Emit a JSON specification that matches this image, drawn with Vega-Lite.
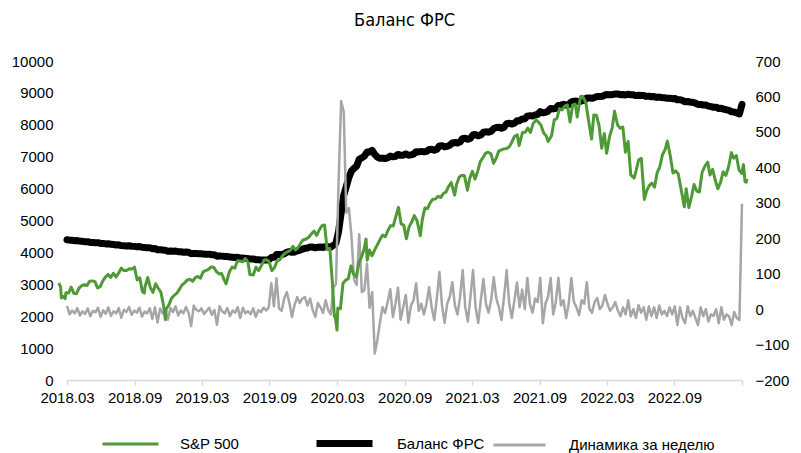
{
"$schema": "https://vega.github.io/schema/vega-lite/v6.json",
"width": 675, "height": 319,
"autosize": {"type": "none"},
"padding": {"left": 67, "top": 61, "right": 59, "bottom": 73},
"background": "white",
"title": {"text": "Баланс ФРС", "anchor": "middle", "frame": "group", "font": "Liberation Sans Narrow, DejaVu Sans Condensed, Roboto Condensed, Roboto", "fontSize": 18, "fontWeight": "normal", "color": "#000000", "offset": 24},
"config": {"view": {"stroke": null}, "axis": {"labelFont": "Liberation Sans", "labelFontSize": 15, "labelColor": "#000000", "grid": false}},
"datasets": {
"fed": [
{"d":"2018-03-14","fed":4398,"chg":9},{"d":"2018-03-21","fed":4383,"chg":-15},{"d":"2018-03-28","fed":4379,"chg":-4},{"d":"2018-04-04","fed":4367,"chg":-12},{"d":"2018-04-11","fed":4370,"chg":3},{"d":"2018-04-18","fed":4352,"chg":-18},{"d":"2018-04-25","fed":4346,"chg":-6},{"d":"2018-05-02","fed":4332,"chg":-14},{"d":"2018-05-09","fed":4334,"chg":2},{"d":"2018-05-16","fed":4314,"chg":-20},{"d":"2018-05-23","fed":4309,"chg":-5},{"d":"2018-05-30","fed":4300,"chg":-9},{"d":"2018-06-06","fed":4304,"chg":4},{"d":"2018-06-13","fed":4282,"chg":-22},{"d":"2018-06-20","fed":4279,"chg":-3},{"d":"2018-06-27","fed":4266,"chg":-13},{"d":"2018-07-04","fed":4271,"chg":5},{"d":"2018-07-11","fed":4252,"chg":-19},{"d":"2018-07-18","fed":4246,"chg":-6},{"d":"2018-07-25","fed":4234,"chg":-12},{"d":"2018-08-01","fed":4237,"chg":3},{"d":"2018-08-08","fed":4213,"chg":-24},{"d":"2018-08-15","fed":4211,"chg":-2},{"d":"2018-08-22","fed":4203,"chg":-8},{"d":"2018-08-29","fed":4209,"chg":6},{"d":"2018-09-05","fed":4193,"chg":-16},{"d":"2018-09-12","fed":4189,"chg":-4},{"d":"2018-09-19","fed":4179,"chg":-10},{"d":"2018-09-26","fed":4183,"chg":4},{"d":"2018-10-03","fed":4162,"chg":-21},{"d":"2018-10-10","fed":4155,"chg":-7},{"d":"2018-10-17","fed":4143,"chg":-12},{"d":"2018-10-24","fed":4145,"chg":2},{"d":"2018-10-31","fed":4117,"chg":-28},{"d":"2018-11-07","fed":4122,"chg":5},{"d":"2018-11-14","fed":4084,"chg":-38},{"d":"2018-11-21","fed":4086,"chg":2},{"d":"2018-11-28","fed":4074,"chg":-12},{"d":"2018-12-05","fed":4068,"chg":-6},{"d":"2018-12-12","fed":4038,"chg":-30},{"d":"2018-12-19","fed":4041,"chg":3},{"d":"2018-12-26","fed":4033,"chg":-8},
{"d":"2019-01-02","fed":4041,"chg":8},{"d":"2019-01-09","fed":4023,"chg":-18},{"d":"2019-01-16","fed":4019,"chg":-4},{"d":"2019-01-23","fed":4007,"chg":-12},{"d":"2019-01-30","fed":4013,"chg":6},{"d":"2019-02-06","fed":4003,"chg":-10},{"d":"2019-02-13","fed":3955,"chg":-48},{"d":"2019-02-20","fed":3965,"chg":10},{"d":"2019-02-27","fed":3963,"chg":-2},{"d":"2019-03-06","fed":3957,"chg":-6},{"d":"2019-03-13","fed":3959,"chg":2},{"d":"2019-03-20","fed":3945,"chg":-14},{"d":"2019-03-27","fed":3940,"chg":-5},{"d":"2019-04-03","fed":3944,"chg":4},{"d":"2019-04-10","fed":3928,"chg":-16},{"d":"2019-04-17","fed":3925,"chg":-3},{"d":"2019-04-24","fed":3881,"chg":-44},{"d":"2019-05-01","fed":3889,"chg":8},{"d":"2019-05-08","fed":3883,"chg":-6},{"d":"2019-05-15","fed":3871,"chg":-12},{"d":"2019-05-22","fed":3874,"chg":3},{"d":"2019-05-29","fed":3854,"chg":-20},{"d":"2019-06-05","fed":3850,"chg":-4},{"d":"2019-06-12","fed":3840,"chg":-10},{"d":"2019-06-19","fed":3845,"chg":5},{"d":"2019-06-26","fed":3820,"chg":-25},{"d":"2019-07-03","fed":3824,"chg":4},{"d":"2019-07-10","fed":3812,"chg":-12},{"d":"2019-07-17","fed":3806,"chg":-6},{"d":"2019-07-24","fed":3792,"chg":-14},{"d":"2019-07-31","fed":3794,"chg":2},{"d":"2019-08-07","fed":3772,"chg":-22},{"d":"2019-08-14","fed":3769,"chg":-3},{"d":"2019-08-21","fed":3760,"chg":-9},{"d":"2019-08-28","fed":3764,"chg":4},{"d":"2019-09-04","fed":3760,"chg":-4},{"d":"2019-09-11","fed":3765,"chg":5},{"d":"2019-09-18","fed":3838,"chg":73},{"d":"2019-09-25","fed":3846,"chg":8},{"d":"2019-10-02","fed":3933,"chg":87},{"d":"2019-10-09","fed":3935,"chg":2},{"d":"2019-10-16","fed":3930,"chg":-5},{"d":"2019-10-23","fed":3960,"chg":30},{"d":"2019-10-30","fed":4008,"chg":48},{"d":"2019-11-06","fed":4025,"chg":17},{"d":"2019-11-13","fed":4003,"chg":-22},{"d":"2019-11-20","fed":4015,"chg":12},{"d":"2019-11-27","fed":4049,"chg":34},{"d":"2019-12-04","fed":4066,"chg":17},{"d":"2019-12-11","fed":4096,"chg":30},{"d":"2019-12-18","fed":4130,"chg":34},{"d":"2019-12-25","fed":4140,"chg":10},
{"d":"2020-01-01","fed":4170,"chg":30},{"d":"2020-01-08","fed":4167,"chg":-3},{"d":"2020-01-15","fed":4145,"chg":-22},{"d":"2020-01-22","fed":4162,"chg":17},{"d":"2020-01-29","fed":4167,"chg":5},{"d":"2020-02-05","fed":4156,"chg":-11},{"d":"2020-02-12","fed":4181,"chg":25},{"d":"2020-02-19","fed":4178,"chg":-3},{"d":"2020-02-26","fed":4163,"chg":-15},{"d":"2020-03-04","fed":4223,"chg":60},{"d":"2020-03-11","fed":4293,"chg":70},{"d":"2020-03-18","fed":4649,"chg":356},{"d":"2020-03-25","fed":5236,"chg":587},{"d":"2020-04-01","fed":5793,"chg":557},{"d":"2020-04-08","fed":6065,"chg":272},{"d":"2020-04-15","fed":6350,"chg":285},{"d":"2020-04-22","fed":6555,"chg":205},{"d":"2020-04-29","fed":6638,"chg":83},{"d":"2020-05-06","fed":6706,"chg":68},{"d":"2020-05-13","fed":6917,"chg":211},{"d":"2020-05-20","fed":6965,"chg":48},{"d":"2020-05-27","fed":7019,"chg":54},{"d":"2020-06-03","fed":7147,"chg":128},{"d":"2020-06-10","fed":7151,"chg":4},{"d":"2020-06-17","fed":7199,"chg":48},{"d":"2020-06-24","fed":7074,"chg":-125},{"d":"2020-07-01","fed":6986,"chg":-88},{"d":"2020-07-08","fed":6948,"chg":-38},{"d":"2020-07-15","fed":6954,"chg":6},{"d":"2020-07-22","fed":6943,"chg":-11},{"d":"2020-07-29","fed":6963,"chg":20},{"d":"2020-08-05","fed":7019,"chg":56},{"d":"2020-08-12","fed":6997,"chg":-22},{"d":"2020-08-19","fed":7012,"chg":15},{"d":"2020-08-26","fed":7072,"chg":60},{"d":"2020-09-02","fed":7042,"chg":-30},{"d":"2020-09-09","fed":7047,"chg":5},{"d":"2020-09-16","fed":7087,"chg":40},{"d":"2020-09-23","fed":7048,"chg":-39},{"d":"2020-09-30","fed":7058,"chg":10},{"d":"2020-10-07","fed":7083,"chg":25},{"d":"2020-10-14","fed":7156,"chg":73},{"d":"2020-10-21","fed":7151,"chg":-5},{"d":"2020-10-28","fed":7166,"chg":15},{"d":"2020-11-04","fed":7151,"chg":-15},{"d":"2020-11-11","fed":7166,"chg":15},{"d":"2020-11-18","fed":7228,"chg":62},{"d":"2020-11-25","fed":7233,"chg":5},{"d":"2020-12-02","fed":7202,"chg":-31},{"d":"2020-12-09","fed":7232,"chg":30},{"d":"2020-12-16","fed":7337,"chg":105},{"d":"2020-12-23","fed":7347,"chg":10},{"d":"2020-12-30","fed":7308,"chg":-39},
{"d":"2021-01-06","fed":7323,"chg":15},{"d":"2021-01-13","fed":7358,"chg":35},{"d":"2021-01-20","fed":7434,"chg":76},{"d":"2021-01-27","fed":7444,"chg":10},{"d":"2021-02-03","fed":7429,"chg":-15},{"d":"2021-02-10","fed":7464,"chg":35},{"d":"2021-02-17","fed":7574,"chg":110},{"d":"2021-02-24","fed":7579,"chg":5},{"d":"2021-03-03","fed":7544,"chg":-35},{"d":"2021-03-10","fed":7579,"chg":35},{"d":"2021-03-17","fed":7689,"chg":110},{"d":"2021-03-24","fed":7694,"chg":5},{"d":"2021-03-31","fed":7655,"chg":-39},{"d":"2021-04-07","fed":7680,"chg":25},{"d":"2021-04-14","fed":7765,"chg":85},{"d":"2021-04-21","fed":7780,"chg":15},{"d":"2021-04-28","fed":7770,"chg":-10},{"d":"2021-05-05","fed":7795,"chg":25},{"d":"2021-05-12","fed":7885,"chg":90},{"d":"2021-05-19","fed":7915,"chg":30},{"d":"2021-05-26","fed":7920,"chg":5},{"d":"2021-06-02","fed":7889,"chg":-31},{"d":"2021-06-09","fed":7924,"chg":35},{"d":"2021-06-16","fed":8034,"chg":110},{"d":"2021-06-23","fed":8049,"chg":15},{"d":"2021-06-30","fed":8024,"chg":-25},{"d":"2021-07-07","fed":8049,"chg":25},{"d":"2021-07-14","fed":8124,"chg":75},{"d":"2021-07-21","fed":8129,"chg":5},{"d":"2021-07-28","fed":8184,"chg":55},{"d":"2021-08-04","fed":8184,"chg":0},{"d":"2021-08-11","fed":8272,"chg":88},{"d":"2021-08-18","fed":8287,"chg":15},{"d":"2021-08-25","fed":8277,"chg":-10},{"d":"2021-09-01","fed":8307,"chg":30},{"d":"2021-09-08","fed":8327,"chg":20},{"d":"2021-09-15","fed":8415,"chg":88},{"d":"2021-09-22","fed":8375,"chg":-40},{"d":"2021-09-29","fed":8390,"chg":15},{"d":"2021-10-06","fed":8425,"chg":35},{"d":"2021-10-13","fed":8513,"chg":88},{"d":"2021-10-20","fed":8498,"chg":-15},{"d":"2021-10-27","fed":8518,"chg":20},{"d":"2021-11-03","fed":8606,"chg":88},{"d":"2021-11-10","fed":8616,"chg":10},{"d":"2021-11-17","fed":8641,"chg":25},{"d":"2021-11-24","fed":8616,"chg":-25},{"d":"2021-12-01","fed":8631,"chg":15},{"d":"2021-12-08","fed":8719,"chg":88},{"d":"2021-12-15","fed":8739,"chg":20},{"d":"2021-12-22","fed":8744,"chg":5},{"d":"2021-12-29","fed":8727,"chg":-17},
{"d":"2022-01-05","fed":8752,"chg":25},{"d":"2022-01-12","fed":8767,"chg":15},{"d":"2022-01-19","fed":8843,"chg":76},{"d":"2022-01-26","fed":8843,"chg":0},{"d":"2022-02-02","fed":8833,"chg":-10},{"d":"2022-02-09","fed":8853,"chg":20},{"d":"2022-02-16","fed":8884,"chg":31},{"d":"2022-02-23","fed":8884,"chg":0},{"d":"2022-03-02","fed":8894,"chg":10},{"d":"2022-03-09","fed":8934,"chg":40},{"d":"2022-03-16","fed":8949,"chg":15},{"d":"2022-03-23","fed":8944,"chg":-5},{"d":"2022-03-30","fed":8949,"chg":5},{"d":"2022-04-06","fed":8969,"chg":20},{"d":"2022-04-13","fed":8965,"chg":-4},{"d":"2022-04-20","fed":8945,"chg":-20},{"d":"2022-04-27","fed":8950,"chg":5},{"d":"2022-05-04","fed":8935,"chg":-15},{"d":"2022-05-11","fed":8960,"chg":25},{"d":"2022-05-18","fed":8940,"chg":-20},{"d":"2022-05-25","fed":8940,"chg":0},{"d":"2022-06-01","fed":8915,"chg":-25},{"d":"2022-06-08","fed":8926,"chg":11},{"d":"2022-06-15","fed":8916,"chg":-10},{"d":"2022-06-22","fed":8921,"chg":5},{"d":"2022-06-29","fed":8891,"chg":-30},{"d":"2022-07-06","fed":8899,"chg":8},{"d":"2022-07-13","fed":8879,"chg":-20},{"d":"2022-07-20","fed":8884,"chg":5},{"d":"2022-07-27","fed":8859,"chg":-25},{"d":"2022-08-03","fed":8869,"chg":10},{"d":"2022-08-10","fed":8854,"chg":-15},{"d":"2022-08-17","fed":8849,"chg":-5},{"d":"2022-08-24","fed":8829,"chg":-20},{"d":"2022-08-31","fed":8834,"chg":5},{"d":"2022-09-07","fed":8819,"chg":-15},{"d":"2022-09-14","fed":8827,"chg":8},{"d":"2022-09-21","fed":8782,"chg":-45},{"d":"2022-09-28","fed":8787,"chg":5},{"d":"2022-10-05","fed":8762,"chg":-25},{"d":"2022-10-12","fed":8722,"chg":-40},{"d":"2022-10-19","fed":8730,"chg":8},{"d":"2022-10-26","fed":8710,"chg":-20},{"d":"2022-11-02","fed":8705,"chg":-5},{"d":"2022-11-09","fed":8680,"chg":-25},{"d":"2022-11-16","fed":8635,"chg":-45},{"d":"2022-11-23","fed":8640,"chg":5},{"d":"2022-11-30","fed":8620,"chg":-20},{"d":"2022-12-07","fed":8620,"chg":0},{"d":"2022-12-14","fed":8585,"chg":-35},{"d":"2022-12-21","fed":8570,"chg":-15},{"d":"2022-12-28","fed":8551,"chg":-19},
{"d":"2023-01-04","fed":8551,"chg":0},{"d":"2023-01-11","fed":8511,"chg":-40},{"d":"2023-01-18","fed":8516,"chg":5},{"d":"2023-01-25","fed":8486,"chg":-30},{"d":"2023-02-01","fed":8471,"chg":-15},{"d":"2023-02-08","fed":8451,"chg":-20},{"d":"2023-02-15","fed":8406,"chg":-45},{"d":"2023-02-22","fed":8398,"chg":-8},{"d":"2023-03-01","fed":8373,"chg":-25},{"d":"2023-03-08","fed":8342,"chg":-31},{"d":"2023-03-15","fed":8639,"chg":297}
],
"spx": [
{"d":"2018-03-16","v":2752},{"d":"2018-03-21","v":2711},{"d":"2018-03-23","v":2588},{"d":"2018-03-28","v":2605},{"d":"2018-04-02","v":2582},{"d":"2018-04-04","v":2644},{"d":"2018-04-11","v":2642},{"d":"2018-04-18","v":2708},{"d":"2018-04-25","v":2639},{"d":"2018-05-02","v":2635},{"d":"2018-05-09","v":2697},{"d":"2018-05-16","v":2722},{"d":"2018-05-23","v":2733},{"d":"2018-05-30","v":2724},{"d":"2018-06-06","v":2772},{"d":"2018-06-13","v":2775},{"d":"2018-06-20","v":2767},{"d":"2018-06-27","v":2699},{"d":"2018-07-04","v":2713},{"d":"2018-07-11","v":2775},{"d":"2018-07-18","v":2816},{"d":"2018-07-25","v":2846},{"d":"2018-08-01","v":2813},{"d":"2018-08-08","v":2858},{"d":"2018-08-15","v":2818},{"d":"2018-08-22","v":2861},{"d":"2018-08-29","v":2914},{"d":"2018-09-05","v":2888},{"d":"2018-09-12","v":2888},{"d":"2018-09-19","v":2907},{"d":"2018-09-26","v":2905},{"d":"2018-10-03","v":2925},{"d":"2018-10-10","v":2785},{"d":"2018-10-17","v":2809},{"d":"2018-10-24","v":2656},{"d":"2018-10-29","v":2641},{"d":"2018-10-31","v":2711},{"d":"2018-11-07","v":2813},{"d":"2018-11-14","v":2701},{"d":"2018-11-21","v":2649},{"d":"2018-11-28","v":2743},{"d":"2018-12-04","v":2700},{"d":"2018-12-12","v":2651},{"d":"2018-12-19","v":2507},{"d":"2018-12-24","v":2351},{"d":"2018-12-26","v":2467},
{"d":"2019-01-02","v":2510},{"d":"2019-01-09","v":2584},{"d":"2019-01-16","v":2616},{"d":"2019-01-23","v":2639},{"d":"2019-01-30","v":2681},{"d":"2019-02-06","v":2731},{"d":"2019-02-13","v":2753},{"d":"2019-02-20","v":2784},{"d":"2019-02-27","v":2792},{"d":"2019-03-06","v":2771},{"d":"2019-03-13","v":2811},{"d":"2019-03-20","v":2824},{"d":"2019-03-27","v":2805},{"d":"2019-04-03","v":2873},{"d":"2019-04-10","v":2888},{"d":"2019-04-17","v":2900},{"d":"2019-04-24","v":2927},{"d":"2019-05-01","v":2924},{"d":"2019-05-08","v":2879},{"d":"2019-05-15","v":2851},{"d":"2019-05-22","v":2856},{"d":"2019-05-29","v":2783},{"d":"2019-06-03","v":2744},{"d":"2019-06-12","v":2879},{"d":"2019-06-19","v":2926},{"d":"2019-06-26","v":2914},{"d":"2019-07-03","v":2996},{"d":"2019-07-10","v":2993},{"d":"2019-07-17","v":2985},{"d":"2019-07-24","v":3019},{"d":"2019-07-31","v":2980},{"d":"2019-08-05","v":2844},{"d":"2019-08-14","v":2840},{"d":"2019-08-21","v":2924},{"d":"2019-08-28","v":2887},{"d":"2019-09-04","v":2937},{"d":"2019-09-11","v":3000},{"d":"2019-09-18","v":3006},{"d":"2019-09-25","v":2984},{"d":"2019-10-02","v":2887},{"d":"2019-10-09","v":2919},{"d":"2019-10-16","v":2990},{"d":"2019-10-23","v":3004},{"d":"2019-10-30","v":3046},{"d":"2019-11-06","v":3077},{"d":"2019-11-13","v":3094},{"d":"2019-11-20","v":3108},{"d":"2019-11-27","v":3153},{"d":"2019-12-04","v":3113},{"d":"2019-12-11","v":3141},{"d":"2019-12-18","v":3191},{"d":"2019-12-24","v":3223},{"d":"2019-12-31","v":3231},
{"d":"2020-01-08","v":3253},{"d":"2020-01-15","v":3289},{"d":"2020-01-22","v":3321},{"d":"2020-01-29","v":3273},{"d":"2020-02-05","v":3334},{"d":"2020-02-12","v":3379},{"d":"2020-02-19","v":3386},{"d":"2020-02-26","v":3116},{"d":"2020-03-04","v":3130},{"d":"2020-03-11","v":2741},{"d":"2020-03-16","v":2386},{"d":"2020-03-18","v":2398},{"d":"2020-03-23","v":2237},{"d":"2020-03-25","v":2475},{"d":"2020-04-01","v":2470},{"d":"2020-04-08","v":2750},{"d":"2020-04-15","v":2783},{"d":"2020-04-22","v":2799},{"d":"2020-04-29","v":2939},{"d":"2020-05-06","v":2848},{"d":"2020-05-13","v":2820},{"d":"2020-05-20","v":2972},{"d":"2020-05-27","v":3036},{"d":"2020-06-03","v":3123},{"d":"2020-06-08","v":3232},{"d":"2020-06-11","v":3002},{"d":"2020-06-17","v":3113},{"d":"2020-06-24","v":3050},{"d":"2020-07-01","v":3115},{"d":"2020-07-08","v":3169},{"d":"2020-07-15","v":3227},{"d":"2020-07-22","v":3276},{"d":"2020-07-29","v":3258},{"d":"2020-08-05","v":3327},{"d":"2020-08-12","v":3380},{"d":"2020-08-19","v":3375},{"d":"2020-08-26","v":3479},{"d":"2020-09-02","v":3580},{"d":"2020-09-09","v":3399},{"d":"2020-09-16","v":3385},{"d":"2020-09-23","v":3237},{"d":"2020-09-30","v":3363},{"d":"2020-10-07","v":3419},{"d":"2020-10-14","v":3489},{"d":"2020-10-21","v":3436},{"d":"2020-10-30","v":3270},{"d":"2020-11-04","v":3443},{"d":"2020-11-11","v":3572},{"d":"2020-11-18","v":3567},{"d":"2020-11-25","v":3629},{"d":"2020-12-02","v":3669},{"d":"2020-12-09","v":3672},{"d":"2020-12-16","v":3701},{"d":"2020-12-23","v":3687},{"d":"2020-12-30","v":3732},
{"d":"2021-01-06","v":3748},{"d":"2021-01-13","v":3809},{"d":"2021-01-20","v":3851},{"d":"2021-01-29","v":3714},{"d":"2021-02-03","v":3830},{"d":"2021-02-10","v":3910},{"d":"2021-02-17","v":3931},{"d":"2021-02-24","v":3925},{"d":"2021-03-04","v":3768},{"d":"2021-03-10","v":3898},{"d":"2021-03-17","v":3974},{"d":"2021-03-24","v":3889},{"d":"2021-03-31","v":3973},{"d":"2021-04-07","v":4080},{"d":"2021-04-14","v":4124},{"d":"2021-04-21","v":4173},{"d":"2021-04-28","v":4183},{"d":"2021-05-05","v":4167},{"d":"2021-05-12","v":4063},{"d":"2021-05-19","v":4116},{"d":"2021-05-26","v":4196},{"d":"2021-06-02","v":4208},{"d":"2021-06-09","v":4220},{"d":"2021-06-16","v":4223},{"d":"2021-06-23","v":4242},{"d":"2021-06-30","v":4298},{"d":"2021-07-07","v":4358},{"d":"2021-07-14","v":4374},{"d":"2021-07-19","v":4258},{"d":"2021-07-28","v":4400},{"d":"2021-08-04","v":4402},{"d":"2021-08-11","v":4447},{"d":"2021-08-18","v":4400},{"d":"2021-08-25","v":4496},{"d":"2021-09-02","v":4537},{"d":"2021-09-08","v":4514},{"d":"2021-09-15","v":4480},{"d":"2021-09-22","v":4395},{"d":"2021-09-29","v":4359},{"d":"2021-10-04","v":4300},{"d":"2021-10-13","v":4364},{"d":"2021-10-20","v":4537},{"d":"2021-10-27","v":4551},{"d":"2021-11-03","v":4660},{"d":"2021-11-10","v":4646},{"d":"2021-11-17","v":4688},{"d":"2021-11-24","v":4701},{"d":"2021-12-01","v":4513},{"d":"2021-12-08","v":4701},{"d":"2021-12-15","v":4709},{"d":"2021-12-20","v":4568},{"d":"2021-12-29","v":4793},
{"d":"2022-01-03","v":4796},{"d":"2022-01-12","v":4726},{"d":"2022-01-19","v":4533},{"d":"2022-01-27","v":4327},{"d":"2022-02-02","v":4590},{"d":"2022-02-09","v":4587},{"d":"2022-02-16","v":4475},{"d":"2022-02-23","v":4226},{"d":"2022-03-02","v":4387},{"d":"2022-03-08","v":4171},{"d":"2022-03-16","v":4358},{"d":"2022-03-23","v":4456},{"d":"2022-03-29","v":4632},{"d":"2022-04-06","v":4481},{"d":"2022-04-13","v":4446},{"d":"2022-04-20","v":4459},{"d":"2022-04-27","v":4183},{"d":"2022-05-04","v":4300},{"d":"2022-05-11","v":3935},{"d":"2022-05-20","v":3901},{"d":"2022-05-25","v":3979},{"d":"2022-06-01","v":4101},{"d":"2022-06-08","v":4115},{"d":"2022-06-16","v":3667},{"d":"2022-06-22","v":3760},{"d":"2022-06-29","v":3818},{"d":"2022-07-06","v":3845},{"d":"2022-07-13","v":3801},{"d":"2022-07-20","v":3959},{"d":"2022-07-27","v":4024},{"d":"2022-08-03","v":4155},{"d":"2022-08-10","v":4210},{"d":"2022-08-16","v":4305},{"d":"2022-08-24","v":4140},{"d":"2022-08-31","v":3955},{"d":"2022-09-07","v":3980},{"d":"2022-09-14","v":3946},{"d":"2022-09-21","v":3790},{"d":"2022-09-30","v":3586},{"d":"2022-10-05","v":3783},{"d":"2022-10-12","v":3577},{"d":"2022-10-19","v":3695},{"d":"2022-10-26","v":3830},{"d":"2022-11-02","v":3759},{"d":"2022-11-09","v":3748},{"d":"2022-11-16","v":3959},{"d":"2022-11-23","v":4027},{"d":"2022-12-01","v":4076},{"d":"2022-12-07","v":3933},{"d":"2022-12-14","v":3995},{"d":"2022-12-21","v":3879},{"d":"2022-12-28","v":3783},
{"d":"2023-01-04","v":3853},{"d":"2023-01-11","v":3969},{"d":"2023-01-18","v":3929},{"d":"2023-01-25","v":4016},{"d":"2023-02-02","v":4179},{"d":"2023-02-08","v":4118},{"d":"2023-02-15","v":4147},{"d":"2023-02-22","v":3991},{"d":"2023-03-01","v":3951},{"d":"2023-03-06","v":4048},{"d":"2023-03-10","v":3862},{"d":"2023-03-13","v":3855},{"d":"2023-03-15","v":3892}
]
},
"layer": [
{
"data": {"name": "fed"},
"mark": {"type": "line", "strokeWidth": 7, "strokeJoin": "round", "strokeCap": "round", "clip": false},
"encoding": {
"x": {"field": "d", "type": "temporal",
"scale": {"type": "utc", "domain": [{"year": 2018, "month": 3, "date": 14, "utc": true}, {"year": 2023, "month": 3, "date": 15, "utc": true}]},
"axis": {"title": null, "grid": false, "domainColor": "#d9d9d9", "domainWidth": 1.5, "tickColor": "#d9d9d9", "tickWidth": 1.5, "tickSize": 5, "labelPadding": 5, "labelFlush": false, "labelOverlap": false,
"values": [{"year": 2018, "month": 3, "date": 14, "utc": true}, {"year": 2018, "month": 9, "date": 13, "utc": true}, {"year": 2019, "month": 3, "date": 14, "utc": true}, {"year": 2019, "month": 9, "date": 13, "utc": true}, {"year": 2020, "month": 3, "date": 14, "utc": true}, {"year": 2020, "month": 9, "date": 13, "utc": true}, {"year": 2021, "month": 3, "date": 14, "utc": true}, {"year": 2021, "month": 9, "date": 13, "utc": true}, {"year": 2022, "month": 3, "date": 14, "utc": true}, {"year": 2022, "month": 9, "date": 13, "utc": true}, {"year": 2023, "month": 3, "date": 15, "utc": true}],
"labelExpr": "utcyear(datum.value) == 2023 ? '' : utcFormat(datum.value, '%Y.%m')"}},
"y": {"field": "fed", "type": "quantitative", "scale": {"domain": [0, 10000], "nice": false, "zero": false},
"axis": {"title": null, "orient": "left", "values": [0,1000,2000,3000,4000,5000,6000,7000,8000,9000,10000], "format": "d", "domain": false, "ticks": false, "labelPadding": 14}},
"color": {"datum": "Баланс ФРС", "type": "nominal", "scale": {"range": ["#000000"]},
"legend": {"title": null, "orient": "none", "legendX": 246, "legendY": 351, "symbolType": "stroke", "symbolSize": 3136, "symbolStrokeWidth": 7, "labelOffset": 21, "labelFont": "Liberation Sans", "labelFontSize": 15, "labelColor": "#000000", "padding": 0}}
}
},
{
"data": {"name": "fed"},
"mark": {"type": "line", "strokeWidth": 2.5, "color": "#a6a6a6", "strokeJoin": "round", "clip": false},
"encoding": {
"x": {"field": "d", "type": "temporal",
"scale": {"type": "utc", "domain": [{"year": 2018, "month": 3, "date": 14, "utc": true}, {"year": 2023, "month": 3, "date": 15, "utc": true}]},
"axis": null},
"y": {"field": "chg", "type": "quantitative", "scale": {"domain": [-200, 700], "nice": false, "zero": false},
"axis": {"title": null, "orient": "right", "values": [-200,-100,0,100,200,300,400,500,600,700], "format": "d", "domain": false, "ticks": false, "labelPadding": 13}},
"color": {"datum": "Динамика за неделю", "type": "nominal", "scale": {"range": ["#a6a6a6"]},
"legend": {"title": null, "orient": "none", "legendX": 425, "legendY": 356.5, "symbolType": "stroke", "symbolSize": 2704, "symbolStrokeWidth": 3, "labelOffset": 22, "labelFont": "Liberation Sans", "labelFontSize": 15, "labelColor": "#000000", "padding": 0}}
}
},
{
"data": {"name": "spx"},
"mark": {"type": "line", "strokeWidth": 3, "strokeJoin": "round", "clip": false},
"encoding": {
"x": {"field": "d", "type": "temporal",
"scale": {"type": "utc", "domain": [{"year": 2018, "month": 4, "date": 7, "utc": true}, {"year": 2023, "month": 3, "date": 2, "utc": true}]},
"axis": null},
"y": {"field": "v", "type": "quantitative", "scale": {"domain": [1690, 5182], "nice": false, "zero": false}, "axis": null},
"color": {"datum": "S&P 500", "type": "nominal", "scale": {"range": ["#4f9a36"]},
"legend": {"title": null, "orient": "none", "legendX": 34, "legendY": 353.5, "symbolType": "stroke", "symbolSize": 3136, "symbolStrokeWidth": 3, "labelOffset": 20, "labelFont": "Liberation Sans", "labelFontSize": 15, "labelColor": "#000000", "padding": 0}}
}
}
],
"resolve": {"scale": {"x": "independent", "y": "independent", "color": "independent"}, "legend": {"color": "independent"}}
}
